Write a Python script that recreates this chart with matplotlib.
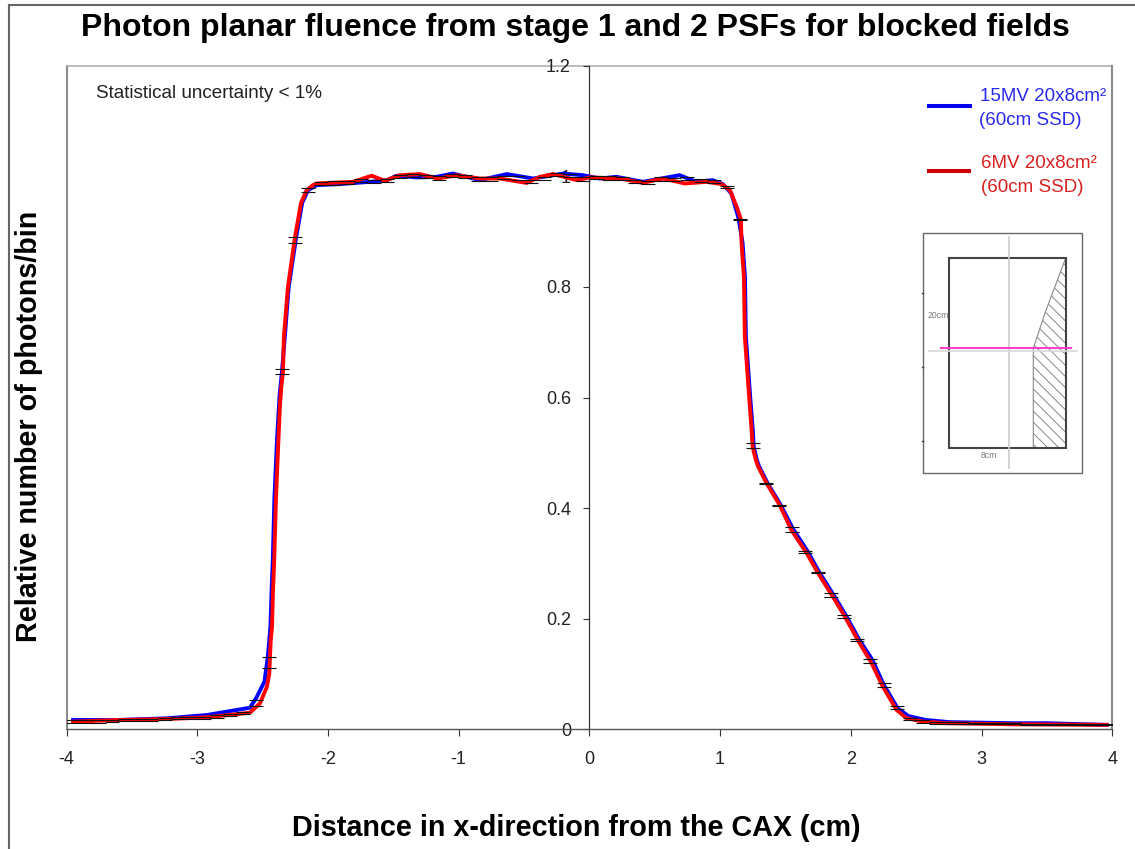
import matplotlib
matplotlib.use("Agg")
import matplotlib.pyplot as plt
from matplotlib.patches import Rectangle, Polygon

plt.rcParams['font.family'] = ['Liberation Sans', 'DejaVu Sans']
plt.rcParams['hatch.linewidth'] = 0.7
plt.rcParams['axes.unicode_minus'] = False

W, H = 1135, 849

red_x = [-3.95, -3.61, -3.23, -2.925, -2.597, -2.52, -2.467, -2.449, -2.438, -2.428, -2.421, -2.411,
         -2.398, -2.379, -2.367, -2.357, -2.344, -2.337, -2.306, -2.252, -2.206, -2.163, -2.115, -2.086,
         -1.809, -1.666, -1.564, -1.449, -1.296, -1.159, -1.016, -0.837, -0.685, -0.48, -0.379, -0.279,
         -0.098, 0.004, 0.233, 0.409, 0.562, 0.73, 0.896, 1.011, 1.075, 1.126, 1.159, 1.164, 1.182, 1.189,
         1.202, 1.222, 1.241, 1.248, 1.273, 1.291, 1.355, 1.457, 1.546, 1.661, 1.748, 1.862, 1.954, 2.054,
         2.158, 2.245, 2.35, 2.426, 2.551, 2.732, 3.239, 3.956]
red_y = [0.0137, 0.0168, 0.0186, 0.0217, 0.03, 0.047, 0.077, 0.10, 0.16, 0.185, 0.246, 0.306,
         0.415, 0.523, 0.586, 0.619, 0.646, 0.71, 0.80, 0.89, 0.952, 0.975, 0.984, 0.987,
         0.990, 1.001, 0.992, 1.002, 1.004, 0.996, 1.002, 0.996, 0.996, 0.988, 0.999, 1.004,
         0.993, 0.998, 0.996, 0.988, 0.996, 0.987, 0.990, 0.986, 0.975, 0.945, 0.922, 0.879, 0.818, 0.71,
         0.668, 0.601, 0.541, 0.511, 0.487, 0.475, 0.445, 0.405, 0.36, 0.319, 0.283, 0.24, 0.204, 0.161,
         0.12, 0.077, 0.035, 0.02, 0.014, 0.011, 0.009, 0.008]

blue_x = [-3.95, -3.61, -3.23, -2.925, -2.597, -2.55, -2.486, -2.46, -2.44, -2.432, -2.422, -2.41,
          -2.39, -2.37, -2.352, -2.33, -2.3, -2.243, -2.197, -2.152, -2.086, -1.909, -1.678, -1.55,
          -1.473, -1.32, -1.17, -1.045, -0.837, -0.632, -0.43, -0.379, -0.2, -0.05, 0.08, 0.207, 0.409,
          0.69, 0.818, 0.943, 1.02, 1.086, 1.14, 1.172, 1.19, 1.197, 1.21, 1.23, 1.25, 1.257, 1.281,
          1.299, 1.363, 1.465, 1.556, 1.669, 1.756, 1.87, 1.962, 2.062, 2.166, 2.253, 2.358,
          2.44, 2.57, 2.75, 3.25, 3.5, 3.956]
blue_y = [0.0168, 0.0168, 0.0199, 0.0259, 0.039, 0.056, 0.086, 0.131, 0.185, 0.246, 0.306, 0.415,
          0.523, 0.604, 0.646, 0.71, 0.80, 0.89, 0.952, 0.975, 0.984, 0.986, 0.990, 0.993,
          1.001, 0.998, 0.999, 1.005, 0.993, 1.004, 0.996, 0.998, 1.005, 1.002, 0.996, 0.999, 0.990,
          1.002, 0.990, 0.993, 0.986, 0.969, 0.925, 0.879, 0.818, 0.71, 0.668, 0.601, 0.541, 0.511, 0.487,
          0.475, 0.445, 0.405, 0.363, 0.322, 0.285, 0.242, 0.206, 0.163, 0.125, 0.08, 0.038,
          0.024, 0.017, 0.013, 0.011, 0.011, 0.008]

err_x = [-3.95, -3.85, -3.75, -3.65, -3.55, -3.45, -3.35, -3.25, -3.15, -3.05, -2.95, -2.85, -2.75, -2.65,
         -2.55, -2.45, -2.35, -2.25, -2.15, -2.05, -1.95, -1.85, -1.75, -1.65, -1.55, -1.45, -1.35, -1.25,
         -1.15, -1.05, -0.95, -0.85, -0.75, -0.65, -0.55, -0.45, -0.35, -0.25, -0.15, -0.05, 0.05, 0.15,
         0.25, 0.35, 0.45, 0.55, 0.65, 0.75, 0.85, 0.95, 1.05, 1.15, 1.25, 1.35, 1.45, 1.55, 1.65, 1.75,
         1.85, 1.95, 2.05, 2.15, 2.25, 2.35, 2.45, 2.55, 2.65, 2.75, 2.85, 2.95, 3.05, 3.15, 3.25, 3.35,
         3.45, 3.55, 3.65, 3.75, 3.85, 3.95]
err_y = [0.014, 0.014, 0.014, 0.015, 0.017, 0.017, 0.017, 0.018, 0.020, 0.020, 0.021, 0.023, 0.026, 0.030,
         0.047, 0.12, 0.647, 0.885, 0.975, 0.987, 0.988, 0.989, 0.992, 0.991, 0.993, 1.0, 1.001, 1.0,
         0.997, 1.002, 1.0, 0.995, 0.995, 0.998, 0.997, 0.99, 0.996, 1.003, 1.002, 0.995, 0.998, 0.997,
         0.996, 0.99, 0.989, 0.995, 0.994, 0.996, 0.992, 0.991, 0.981, 0.922, 0.513, 0.445, 0.405, 0.361,
         0.321, 0.283, 0.243, 0.204, 0.162, 0.124, 0.08, 0.04, 0.018, 0.014, 0.012, 0.011, 0.011, 0.010,
         0.010, 0.010, 0.010, 0.009, 0.009, 0.009, 0.009, 0.008, 0.008, 0.008]
err_size = [0.002, 0.002, 0.002, 0.002, 0.002, 0.002, 0.002, 0.002, 0.002, 0.002, 0.002, 0.002, 0.002, 0.002,
            0.0055, 0.01, 0.0045, 0.006, 0.003, 0.003, 0.003, 0.003, 0.003, 0.003, 0.003, 0.003, 0.003, 0.003,
            0.003, 0.003, 0.003, 0.003, 0.003, 0.003, 0.003, 0.003, 0.003, 0.003, 0.003, 0.003, 0.003, 0.003,
            0.003, 0.003, 0.003, 0.003, 0.003, 0.003, 0.003, 0.003, 0.002, 0.001, 0.004, 0.001, 0.001, 0.005,
            0.002, 0.001, 0.003, 0.002, 0.002, 0.004, 0.004, 0.003, 0.002, 0.002, 0.002, 0.002, 0.002, 0.001,
            0.001, 0.001, 0.001, 0.001, 0.001, 0.001, 0.001, 0.001, 0.001, 0.001]

x_ticks = [-4, -3, -2, -1, 0, 1, 2, 3, 4]
y_ticks = [0, 0.2, 0.4, 0.6, 0.8, 1.0, 1.2]
y_tick_labels = ['0', '0.2', '0.4', '0.6', '0.8', '1', '1.2']

fig = plt.figure(figsize=(W / 100, H / 100), dpi=100, facecolor='white')

# full-figure pixel overlay for the frame, the legend and the inset sketch
ov = fig.add_axes([0, 0, 1, 1], zorder=0)
ov.set_xlim(0, W)
ov.set_ylim(H, 0)
ov.axis('off')

ax = fig.add_axes([66.5 / W, 1 - 729.3 / H, (1112.3 - 66.5) / W, (729.3 - 65.7) / H], zorder=1)
ax.patch.set_alpha(0)
ax.set_xlim(-4, 4)
ax.set_ylim(0, 1.2)

ax.plot(blue_x, blue_y, color='#0000ff', lw=2.8, zorder=3, solid_joinstyle='round')
ax.plot(red_x, red_y, color='#ff0000', lw=2.8, zorder=4, solid_joinstyle='round')
ax.errorbar(err_x, err_y, yerr=err_size, fmt='none', ecolor='#111111', elinewidth=0,
            capsize=5.2, capthick=0.8, zorder=5)

for s in ['top', 'right']:
    ax.spines[s].set_visible(False)
ax.spines['left'].set_position(('data', 0))
ax.spines['left'].set_color('#333333')
ax.spines['left'].set_linewidth(0.9)
ax.spines['bottom'].set_color('#555555')
ax.spines['bottom'].set_linewidth(1.0)
ax.set_xticks(x_ticks)
ax.set_yticks(y_ticks)
ax.set_yticklabels(y_tick_labels)
ax.tick_params(axis='x', length=5, width=0.8, color='#333333', labelsize=13, pad=10.7, labelcolor='#222222')
ax.tick_params(axis='y', length=4.3, width=0.8, color='#333333', labelsize=13, pad=9, labelcolor='#222222')

# plot-area border
ov.plot([66.5, 66.5], [729.3, 65.7], color='#8c8c8c', lw=1.5)
ov.plot([66.5, 1112.3], [65.7, 65.7], color='#b0b0b0', lw=1.2)
ov.plot([1112.3, 1112.3], [65.7, 729.3], color='#8c8c8c', lw=1.5)
# outer frame
ov.plot([9, 9], [H, 5], color='#666666', lw=1.5)
ov.plot([9, W], [5, 5], color='#666666', lw=1.5)

def px_text(x, y, s, **kw):
    kw.setdefault('va', 'center')
    ov.text(x, y, s, **kw)

px_text(575.5, 28, 'Photon planar fluence from stage 1 and 2 PSFs for blocked fields',
        ha='center', fontsize=23, fontweight='bold', color='black')
px_text(576, 828, 'Distance in x-direction from the CAX (cm)', ha='center', fontsize=20.7,
        fontweight='bold', color='black')
px_text(29, 426, 'Relative number of photons/bin', ha='center', rotation=90, fontsize=20.7,
        fontweight='bold', color='black')
px_text(96, 93, 'Statistical uncertainty < 1%', ha='left', fontsize=13.6, color='#222222')

# legend
ov.plot([927, 972], [105.7, 105.7], color='#0000ee', lw=2.9, solid_capstyle='butt')
ov.plot([927, 971], [170.7, 170.7], color='#cc0000', lw=2.9, solid_capstyle='butt')
px_text(980, 96, '15MV 20x8cm²', ha='left', fontsize=13.5, color='#2a2aee')
px_text(979, 120, '(60cm SSD)', ha='left', fontsize=13.5, color='#2a2aee')
px_text(981, 163, '6MV 20x8cm²', ha='left', fontsize=13.5, color='#d82020')
px_text(981, 187, '(60cm SSD)', ha='left', fontsize=13.5, color='#d82020')

# inset field sketch
ov.add_patch(Rectangle((923, 233), 158.7, 239.7, fill=False, ec='#666666', lw=1.0))
ov.add_patch(Polygon([(1033.3, 447.7), (1033.3, 348.3), (1045, 313), (1065.7, 258), (1065.7, 447.7)],
                     closed=True, fc='none', ec='#888888', lw=0.8, hatch='\\\\\\'))
ov.plot([1009, 1009], [237, 468], color='#cccccc', lw=1.2)
ov.plot([929, 1077], [350.7, 350.7], color='#d8d8d8', lw=1.2)
ov.add_patch(Rectangle((948.7, 258), 117, 189.7, fill=False, ec='#444444', lw=1.5))
ov.plot([941, 1071], [348.3, 348.3], color='#ff40c8', lw=1.5)
for yy in [292.7, 366.7, 441]:
    ov.plot([921.5, 923], [yy, yy], color='#444444', lw=1.0)
px_text(938, 315.7, '20cm', ha='center', fontsize=6.2, color='#777777')
px_text(989, 455, '8cm', ha='center', fontsize=6.2, color='#777777')

fig.savefig('out.png', dpi=100)
